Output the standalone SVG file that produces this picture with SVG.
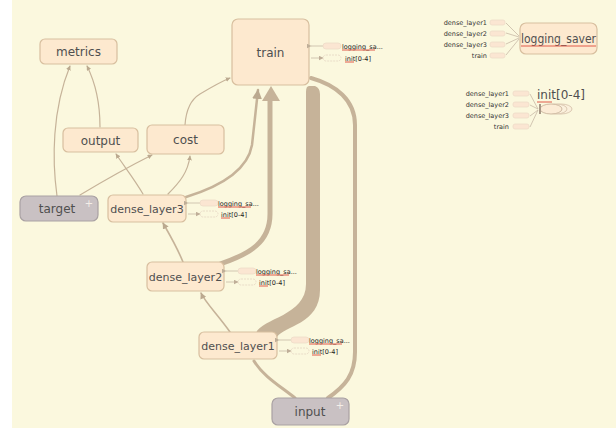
<svg xmlns="http://www.w3.org/2000/svg" width="616" height="430" viewBox="0 0 616 430">
<defs>
<style>
.bg{fill:#fbf8de}
.node rect{fill:#fde9cf;stroke:#d8bf9f;stroke-width:1.2}
.gnode rect{fill:#c9c1c3;stroke:#a9a1a3;stroke-width:1.2}
.lbl{font-family:"DejaVu Sans","Liberation Sans",sans-serif;font-size:12px;fill:#4f4f4f;text-anchor:middle}
.lbs{font-size:11px}
.plus{font-family:"DejaVu Sans",sans-serif;font-size:10px;fill:#f4eee8;text-anchor:middle}
.e{fill:none;stroke:#c6b399;stroke-linecap:round}
.aux{font-family:"DejaVu Sans","Liberation Sans",sans-serif;font-size:6.5px;fill:#222}
.auxr{font-family:"DejaVu Sans","Liberation Sans",sans-serif;font-size:6.5px;fill:#333;text-anchor:end}
.stub{fill:#fbe6d2;stroke:#efdcc8;stroke-width:0.8}
.stubd{fill:none;stroke:#e6d5c3;stroke-width:0.8;stroke-dasharray:2 1}
.al{fill:none;stroke:#c8b9a6;stroke-width:0.8}
.red{stroke:#e05a4a;stroke-width:1;fill:none}
</style>
<marker id="ah" viewBox="0 0 10 10" refX="9" refY="5" markerWidth="4" markerHeight="4" orient="auto-start-reverse"><path d="M0,0 L10,5 L0,10 z" fill="#bba98f"/></marker>
<marker id="as" viewBox="0 0 10 10" refX="9" refY="5" markerWidth="5" markerHeight="5" markerUnits="userSpaceOnUse" orient="auto"><path d="M0,0 L10,5 L0,10 z" fill="#bfae98"/></marker>
</defs>
<rect class="bg" x="12" y="0" width="604" height="428"/>

<g id="connectors">
<path fill="#c6b399" d="M256 333 C262 318 306 316 306 284 L306 92 Q306 86 309 86 L315 86 Q320 88 320 94 L320 290 C320 324 284 326 277 337 z"/>
<path class="e" stroke-width="5" d="M220 264 C250 254 270 242 270 214 L270 100"/>
<path d="M262 101 L271 86 L280 101 z" fill="#c6b399"/>
<path class="e" stroke-width="4" d="M328 398 C345 386 355 375 355 352 L355 125 C355 100 336 85 311 78"/>
<path class="e" stroke-width="3" d="M295 398 C280 386 263 376 254 361"/>
<path class="e" stroke-width="1.6" marker-end="url(#ah)" d="M230 332 C218 315 205 302 201 293"/>
<path class="e" stroke-width="1.6" marker-end="url(#ah)" d="M183 262 C176 245 168 232 163 223"/>
<path class="e" stroke-width="2.5" marker-end="url(#ah)" d="M186 197 C225 185 248 168 252 145 L258 90"/>
<path class="e" stroke-width="1.2" marker-end="url(#ah)" d="M168 194 C180 182 188 172 190 156"/>
<path class="e" stroke-width="1.2" marker-end="url(#ah)" d="M143 194 C135 180 124 166 116 154"/>
<path class="e" stroke-width="1.2" marker-end="url(#ah)" d="M80 195 C105 180 130 166 152 155"/>
<path class="e" stroke-width="1.2" marker-end="url(#ah)" d="M57 196 C52 160 52 110 70 66"/>
<path class="e" stroke-width="1.2" marker-end="url(#ah)" d="M100 127 C100 100 95 82 87 66"/>
<path class="e" stroke-width="1.2" marker-end="url(#ah)" d="M185 125 C186 110 190 100 200 94 C210 88 220 82 230 78"/>
</g>

<g id="metrics" class="node"><rect x="40" y="39" width="77" height="25" rx="5"/><text class="lbl" x="78.5" y="56">metrics</text></g>
<g id="train" class="node"><rect x="232" y="19" width="77" height="66" rx="6"/><text class="lbl" x="270.5" y="57">train</text></g>
<g id="output" class="node"><rect x="63" y="128" width="75" height="24" rx="5"/><text class="lbl" x="100.5" y="144.5">output</text></g>
<g id="cost" class="node"><rect x="147" y="125" width="77" height="29" rx="5"/><text class="lbl" x="185.5" y="144">cost</text></g>
<g id="target" class="gnode"><rect x="20" y="196" width="78" height="25" rx="6"/><text class="lbl" x="57" y="213">target</text><text class="plus" x="89" y="207">+</text></g>
<g id="dense_layer3" class="node"><rect x="108" y="195" width="78" height="27" rx="5"/><text class="lbl lbs" x="147" y="212.5">dense_layer3</text></g>
<g id="dense_layer2" class="node"><rect x="147" y="262" width="77" height="29" rx="5"/><text class="lbl lbs" x="185.5" y="280.5">dense_layer2</text></g>
<g id="dense_layer1" class="node"><rect x="199" y="332" width="78" height="27" rx="5"/><text class="lbl lbs" x="238" y="349.5">dense_layer1</text></g>
<g id="input" class="gnode"><rect x="272" y="398" width="77" height="27" rx="6"/><text class="lbl" x="310" y="416">input</text><text class="plus" x="340" y="409">+</text></g>

<g id="aux_train">
<line class="al" x1="311" y1="46" x2="323" y2="46" marker-start="url(#as)"/>
<rect class="stub" x="323" y="43" width="18" height="6" rx="3"/>
<text class="aux" x="342" y="48.5">logging_sa...</text><line class="red" x1="342" y1="50" x2="375" y2="50"/>
<line class="al" x1="311" y1="58" x2="323" y2="58" marker-end="url(#as)"/>
<rect class="stubd" x="323" y="55" width="18" height="6" rx="3"/>
<text class="aux" x="345" y="60.5">init[0-4]</text><line class="red" x1="345" y1="62" x2="354" y2="62"/>
</g>
<g id="aux_dense_layer3">
<line class="al" x1="188" y1="203" x2="200" y2="203" marker-start="url(#as)"/>
<rect class="stub" x="200" y="200" width="18" height="6" rx="3"/>
<text class="aux" x="218" y="205.5">logging_sa...</text><line class="red" x1="218" y1="207" x2="251" y2="207"/>
<line class="al" x1="188" y1="214" x2="200" y2="214" marker-end="url(#as)"/>
<rect class="stubd" x="200" y="211" width="18" height="6" rx="3"/>
<text class="aux" x="221" y="216.5">init[0-4]</text><line class="red" x1="221" y1="218" x2="230" y2="218"/>
</g>
<g id="aux_dense_layer2">
<line class="al" x1="226" y1="271" x2="238" y2="271" marker-start="url(#as)"/>
<rect class="stub" x="238" y="268" width="18" height="6" rx="3"/>
<text class="aux" x="256" y="273.5">logging_sa...</text><line class="red" x1="256" y1="275" x2="289" y2="275"/>
<line class="al" x1="226" y1="282" x2="238" y2="282" marker-end="url(#as)"/>
<rect class="stubd" x="238" y="279" width="18" height="6" rx="3"/>
<text class="aux" x="259" y="284.5">init[0-4]</text><line class="red" x1="259" y1="286" x2="268" y2="286"/>
</g>
<g id="aux_dense_layer1">
<line class="al" x1="279" y1="340" x2="291" y2="340" marker-start="url(#as)"/>
<rect class="stub" x="291" y="337" width="18" height="6" rx="3"/>
<text class="aux" x="309" y="342.5">logging_sa...</text><line class="red" x1="309" y1="344" x2="342" y2="344"/>
<line class="al" x1="279" y1="351" x2="291" y2="351" marker-end="url(#as)"/>
<rect class="stubd" x="291" y="348" width="18" height="6" rx="3"/>
<text class="aux" x="312" y="353.5">init[0-4]</text><line class="red" x1="312" y1="355" x2="321" y2="355"/>
</g>

<g id="logging_saver">
<rect x="520" y="23" width="77" height="31" rx="6" fill="#fde9cf" stroke="#d8bf9f" stroke-width="1.2"/>
<text x="558.5" y="43" font-family="DejaVu Sans, Liberation Sans, sans-serif" font-size="12.5" fill="#4f4f4f" text-anchor="middle" textLength="75" lengthAdjust="spacingAndGlyphs">logging_saver</text>
<line class="red" x1="521" y1="46" x2="596" y2="46"/>
<text class="auxr" x="487" y="25">dense_layer1</text>
<text class="auxr" x="487" y="35.5">dense_layer2</text>
<text class="auxr" x="487" y="46.5">dense_layer3</text>
<text class="auxr" x="487" y="57.5">train</text>
<rect class="stub" x="490" y="20" width="15" height="5" rx="2"/>
<rect class="stub" x="490" y="31" width="15" height="5" rx="2"/>
<rect class="stub" x="490" y="42" width="15" height="5" rx="2"/>
<rect class="stub" x="490" y="53" width="15" height="5" rx="2"/>
<path class="al" d="M519 36 L506 23 M519 37 L506 33 M519 38 L506 44 M519 39 L506 55"/>
</g>

<g id="init_0_4">
<text x="537" y="99" font-family="DejaVu Sans, Liberation Sans, sans-serif" font-size="12" fill="#4f4f4f">init[0-4]</text>
<line class="red" x1="537" y1="102" x2="552" y2="102"/>
<text class="auxr" x="509" y="96">dense_layer1</text>
<text class="auxr" x="509" y="107">dense_layer2</text>
<text class="auxr" x="509" y="118">dense_layer3</text>
<text class="auxr" x="509" y="129">train</text>
<rect class="stub" x="513" y="91" width="16" height="5" rx="2"/>
<rect class="stub" x="513" y="102" width="16" height="5" rx="2"/>
<rect class="stub" x="513" y="113" width="16" height="5" rx="2"/>
<rect class="stub" x="513" y="124" width="16" height="5" rx="2"/>
<path class="al" d="M538 109 L530 94 M538 109 L530 105 M538 110 L530 116 M538 110 L530 127"/>
<ellipse cx="561" cy="109" rx="11" ry="5" fill="#fbf0dc" stroke="#d8c4ad" stroke-width="0.9"/>
<ellipse cx="556" cy="109" rx="11" ry="5" fill="#fbf0dc" stroke="#d8c4ad" stroke-width="0.9"/>
<ellipse cx="551" cy="109" rx="11" ry="5" fill="#fcecd6" stroke="#c9b49c" stroke-width="0.9"/>
<rect x="539" y="104" width="2" height="10" fill="#a89886"/>
</g>
</svg>
